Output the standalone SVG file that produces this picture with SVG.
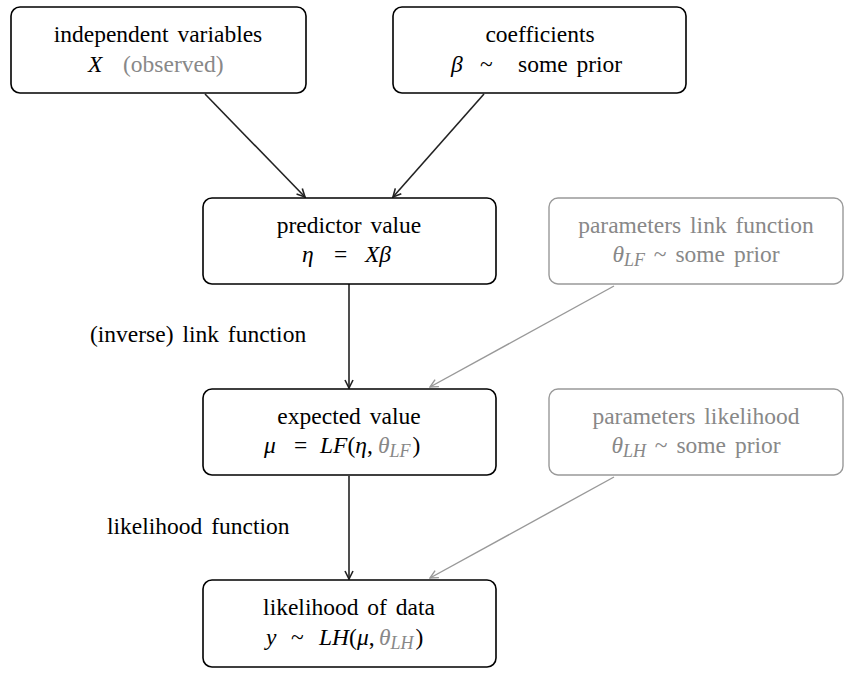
<svg xmlns="http://www.w3.org/2000/svg" width="852" height="674" viewBox="0 0 852 674">
<style>
text{font-family:"Liberation Serif","Times New Roman",serif;font-size:23.5px;fill:#000;text-anchor:middle;word-spacing:3px}
.m{text-anchor:start}
.g{fill:#888}
.i{font-style:italic}
.sub{font-size:18px;font-style:italic}
.box{fill:#fff;stroke:#000;stroke-width:1.6}
.gbox{fill:#fff;stroke:#999;stroke-width:1.4}
.e{fill:none;stroke:#222;stroke-width:1.6}
.ge{fill:none;stroke:#999;stroke-width:1.4}
.lab{text-anchor:start}
</style>
<defs>
<marker id="ah" viewBox="0 0 10 10" refX="9" refY="5" markerWidth="10" markerHeight="10" markerUnits="userSpaceOnUse" orient="auto">
<path d="M1,1 L9,5 L1,9" fill="none" stroke="#222" stroke-width="1.6"/>
</marker>
<marker id="gah" viewBox="0 0 10 10" refX="9" refY="5" markerWidth="10" markerHeight="10" markerUnits="userSpaceOnUse" orient="auto">
<path d="M1,1 L9,5 L1,9" fill="none" stroke="#999" stroke-width="1.4"/>
</marker>
</defs>
<g id="connectors">
<line class="e" x1="205" y1="94" x2="305" y2="197" marker-end="url(#ah)"/>
<line class="e" x1="484" y1="94" x2="393" y2="197" marker-end="url(#ah)"/>
<line class="e" x1="349" y1="284" x2="349" y2="388" marker-end="url(#ah)"/>
<line class="ge" x1="614" y1="286" x2="430" y2="387" marker-end="url(#gah)"/>
<line class="e" x1="349" y1="476" x2="349" y2="579" marker-end="url(#ah)"/>
<line class="ge" x1="614" y1="477" x2="430" y2="578" marker-end="url(#gah)"/>
<text class="lab" x="90" y="342">(inverse) link function</text>
<text class="lab" x="107" y="534">likelihood function</text>
</g>
<g id="n-independent">
<rect class="box" x="11" y="7" width="295" height="86" rx="9"/>
<text x="158" y="42">independent variables</text>
<text class="m" y="72"><tspan class="i" x="88">X</tspan><tspan class="g" x="123">(observed)</tspan></text>
</g>
<g id="n-coefficients">
<rect class="box" x="393" y="7" width="293" height="86" rx="9"/>
<text x="540" y="42">coefficients</text>
<text class="m" y="72"><tspan class="i" x="451">β</tspan><tspan x="480">~</tspan><tspan x="518">some prior</tspan></text>
</g>
<g id="n-predictor">
<rect class="box" x="203" y="198" width="293" height="86" rx="9"/>
<text x="349" y="233">predictor value</text>
<text class="m" y="262"><tspan class="i" x="302">η</tspan><tspan x="334">=</tspan><tspan class="i" x="365">Xβ</tspan></text>
</g>
<g id="n-paramslf">
<rect class="gbox" x="549" y="198" width="294" height="86" rx="9"/>
<text class="g" x="696" y="233">parameters link function</text>
<text class="g" x="696" y="262"><tspan class="i">θ</tspan><tspan class="sub" dy="4">LF</tspan><tspan dy="-4"> ~ some prior</tspan></text>
</g>
<g id="n-expected">
<rect class="box" x="203" y="389" width="293" height="86" rx="9"/>
<text x="349" y="424">expected value</text>
<text class="m" y="453"><tspan class="i" x="264">μ</tspan><tspan x="294">=</tspan><tspan x="320"><tspan class="i">LF</tspan>(<tspan class="i">η</tspan>,</tspan><tspan class="i g" x="378">θ</tspan><tspan class="sub g" dy="4">LF</tspan><tspan dy="-4" dx="2">)</tspan></text>
</g>
<g id="n-paramslh">
<rect class="gbox" x="549" y="389" width="294" height="86" rx="9"/>
<text class="g" x="696" y="424">parameters likelihood</text>
<text class="g" x="696" y="453"><tspan class="i">θ</tspan><tspan class="sub" dy="4">LH</tspan><tspan dy="-4"> ~ some prior</tspan></text>
</g>
<g id="n-likelihood">
<rect class="box" x="203" y="580" width="293" height="87" rx="9"/>
<text x="349" y="615">likelihood of data</text>
<text class="m" y="645"><tspan class="i" x="266">y</tspan><tspan x="291">~</tspan><tspan x="319"><tspan class="i">LH</tspan>(<tspan class="i">μ</tspan>,</tspan><tspan class="i g" x="379">θ</tspan><tspan class="sub g" dy="4">LH</tspan><tspan dy="-4" dx="2">)</tspan></text>
</g>
</svg>
